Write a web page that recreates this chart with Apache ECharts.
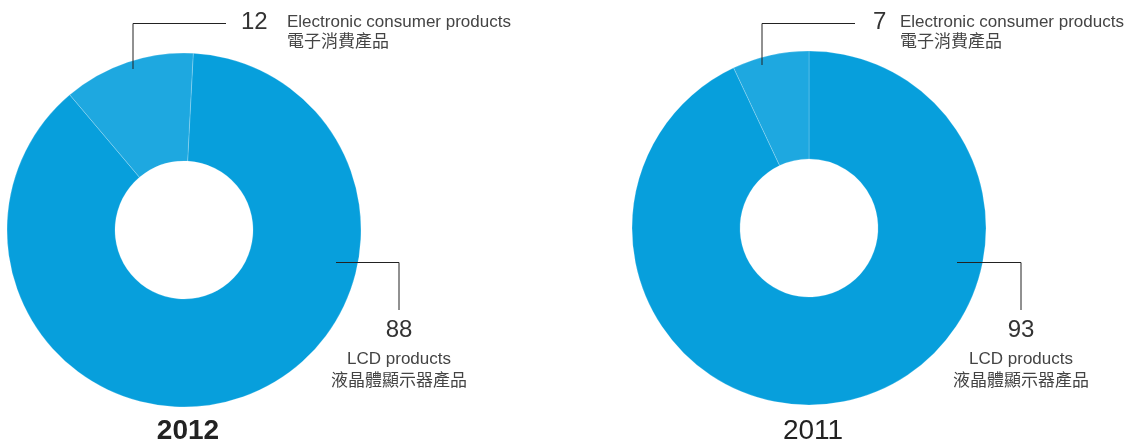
<!DOCTYPE html>
<html>
<head>
<meta charset="utf-8">
<script src="https://cdn.jsdelivr.net/npm/echarts@6/dist/echarts.min.js"></script>
<style>
  html, body { margin: 0; padding: 0; background: #fff; }
  #main { width: 1130px; height: 443px; }
</style>
</head>
<body>
<div id="main"></div>
<script>
// 數據
var years = ['2012', '2011'];
var namesEn = ['LCD products', 'Electronic consumer products'];
var namesZh = ['液晶體顯示器產品', '電子消費產品'];
var values2012 = [88, 12];
var values2011 = [93, 7];

var colors = ['#079fdc', '#1ea8e0'];
var FONT = "'Liberation Sans', 'Noto Sans CJK TC', sans-serif";

// 版面位置
var layouts = [
  { center: [184, 230], startAngle: 87, topX: 133, topBottom: 69, topEnd: 226, numX: 241, textX: 287, lcdStart: 336, lcdX: 399 },
  { center: [809, 228], startAngle: 90, topX: 762, topBottom: 65, topEnd: 855, numX: 873, textX: 900, lcdStart: 957, lcdX: 1021 }
];
var TOP_LINE_Y = 23.5, LCD_LINE_Y = 262.5, LCD_LINE_END = 310;

function makeLabel(v, i) {
  if (i === 0) {
    return '{v|' + v + '}\n{en|' + namesEn[0] + '}\n{zh|' + namesZh[0] + '}';
  }
  return '{v|' + v + '}{en|' + namesEn[1] + '}\n{sp|}{zh|' + namesZh[1] + '}';
}

function pieSeries(vals, k) {
  var L = layouts[k];
  var numW = L.textX - L.numX;
  return {
    type: 'pie',
    center: L.center,
    radius: [69, 177],
    startAngle: L.startAngle,
    clockwise: true,
    silent: true,
    itemStyle: { borderColor: 'rgba(255,255,255,0.35)', borderWidth: 0.6 },
    label: {
      show: true,
      position: 'outside',
      overflow: 'none',
      formatter: function (p) { return makeLabel(p.value, p.dataIndex); }
    },
    labelLine: { show: false },
    labelLayout: function (p) {
      if (p.dataIndex === 0) {
        return { x: L.lcdX, y: 315.5, align: 'center', verticalAlign: 'top' };
      }
      return { x: L.numX, y: 11, align: 'left', verticalAlign: 'top' };
    },
    data: vals.map(function (v, i) {
      var rich = i === 0 ? {
        v: { fontFamily: FONT, fontSize: 24, color: '#333', lineHeight: 30 },
        en: { fontFamily: FONT, fontSize: 17, color: '#444', lineHeight: 28 },
        zh: { fontFamily: FONT, fontSize: 17, color: '#444', lineHeight: 16 }
      } : {
        v: { fontFamily: FONT, fontSize: 24, color: '#333', lineHeight: 22, width: numW },
        en: { fontFamily: FONT, fontSize: 17, color: '#444', lineHeight: 22 },
        zh: { fontFamily: FONT, fontSize: 17, color: '#444', lineHeight: 18 },
        sp: { width: numW, lineHeight: 18 }
      };
      return { value: v, name: namesEn[i], itemStyle: { color: colors[i] }, label: { rich: rich } };
    })
  };
}

// 引線
var guides = [];
layouts.forEach(function (L) {
  guides.push({
    type: 'polyline', z: 100, silent: true,
    shape: { points: [[L.topX, L.topBottom], [L.topX, TOP_LINE_Y], [L.topEnd, TOP_LINE_Y]] },
    style: { stroke: '#222', lineWidth: 1, fill: null }
  });
  guides.push({
    type: 'polyline', z: 100, silent: true,
    shape: { points: [[L.lcdStart, LCD_LINE_Y], [L.lcdX, LCD_LINE_Y], [L.lcdX, LCD_LINE_END]] },
    style: { stroke: '#222', lineWidth: 1, fill: null }
  });
});

var chart = echarts.init(document.getElementById('main'));
chart.setOption({
  animation: false,
  title: [
    { text: years[0], left: 183, top: 412, textAlign: 'center',
      textStyle: { fontFamily: FONT, fontSize: 28, fontWeight: 'bold', color: '#222' } },
    { text: years[1], left: 808, top: 412, textAlign: 'center',
      textStyle: { fontFamily: FONT, fontSize: 28, fontWeight: 'normal', color: '#222' } }
  ],
  graphic: guides,
  series: [pieSeries(values2012, 0), pieSeries(values2011, 1)]
});
</script>
</body>
</html>
